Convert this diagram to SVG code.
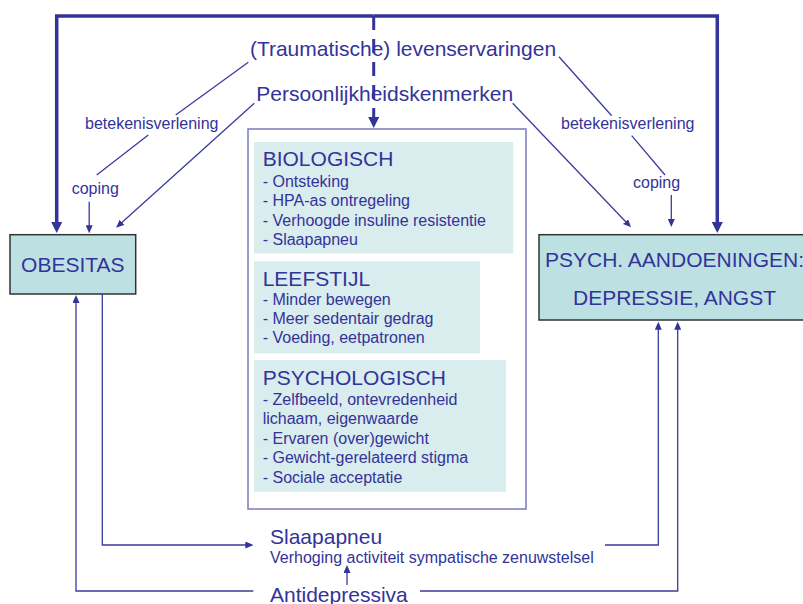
<svg xmlns="http://www.w3.org/2000/svg" width="803" height="604" viewBox="0 0 803 604">
<defs>
<style>
text{font-family:"Liberation Sans",Arial,sans-serif;fill:#333399}
.big{font-size:21px}
.sm{font-size:16px}
.mid{text-anchor:middle}
.node{fill:#bde0e3;stroke:#333333;stroke-width:1.5}
.panel{fill:#d9ecee}
.frame{fill:#ffffff;stroke:#7a7abf;stroke-width:1.5}
.thick{fill:none;stroke:#333399;stroke-width:3.5;stroke-linejoin:miter}
.dash{fill:none;stroke:#333399;stroke-width:3;stroke-dasharray:14 9}
.thin{fill:none;stroke:#3b3b9e;stroke-width:1.3}
</style>
<marker id="ah" markerUnits="userSpaceOnUse" markerWidth="8" markerHeight="7" refX="2" refY="3.5" orient="auto">
<path d="M0,0 L8,3.5 L0,7 z" fill="#333399"/>
</marker>
<marker id="ahb" markerUnits="userSpaceOnUse" markerWidth="11" markerHeight="11" refX="2" refY="5.5" orient="auto">
<path d="M0,0 L11,5.5 L0,11 z" fill="#333399"/>
</marker>
</defs>
<rect width="803" height="604" fill="#ffffff"/>

<g id="center-frame">
<rect class="frame" x="248" y="129" width="278" height="380"/>
</g>

<g id="biologisch">
<rect class="panel" x="254" y="142" width="259.3" height="111.3"/>
<text class="big" x="262.7" y="166">BIOLOGISCH</text>
<text class="sm" x="262.7" y="186.7">- Ontsteking</text>
<text class="sm" x="262.7" y="206.3">- HPA-as ontregeling</text>
<text class="sm" x="262.7" y="226">- Verhoogde insuline resistentie</text>
<text class="sm" x="262.7" y="245.3">- Slaapapneu</text>
</g>

<g id="leefstijl">
<rect class="panel" x="254" y="261.3" width="226" height="92"/>
<text class="big" x="262.7" y="285.7">LEEFSTIJL</text>
<text class="sm" x="262.7" y="305">- Minder bewegen</text>
<text class="sm" x="262.7" y="324.3">- Meer sedentair gedrag</text>
<text class="sm" x="262.7" y="343.3">- Voeding, eetpatronen</text>
</g>

<g id="psychologisch">
<rect class="panel" x="254" y="360" width="252" height="131.7"/>
<text class="big" x="262.7" y="385">PSYCHOLOGISCH</text>
<text class="sm" x="262.7" y="405">- Zelfbeeld, ontevredenheid</text>
<text class="sm" x="262.7" y="424.3">lichaam, eigenwaarde</text>
<text class="sm" x="262.7" y="444.3">- Ervaren (over)gewicht</text>
<text class="sm" x="262.7" y="463.3">- Gewicht-gerelateerd stigma</text>
<text class="sm" x="262.7" y="482.7">- Sociale acceptatie</text>
</g>

<g id="obesitas">
<rect class="node" x="10" y="234.7" width="125.7" height="59.3"/>
<text class="big mid" x="72.8" y="271.7">OBESITAS</text>
</g>

<g id="psych">
<rect class="node" x="539" y="234.7" width="266" height="85.3"/>
<text class="big mid" x="674.5" y="266.7">PSYCH. AANDOENINGEN:</text>
<text class="big mid" x="674.5" y="305">DEPRESSIE, ANGST</text>
</g>

<g id="levenservaringen">
<text class="big mid" x="403" y="56">(Traumatische) levenservaringen</text>
</g>

<g id="persoonlijkheid">
<text class="big mid" x="384.7" y="101">Persoonlijkheidskenmerken</text>
</g>

<g id="slaapapneu">
<text class="big" x="270" y="544">Slaapapneu</text>
<text class="sm" x="270" y="563.3">Verhoging activiteit sympatische zenuwstelsel</text>
</g>

<g id="antidepressiva">
<text class="big" x="270" y="602">Antidepressiva</text>
</g>

<g id="labels">
<text class="sm" x="85" y="128.5">betekenisverlening</text>
<text class="sm" x="71.7" y="194.3">coping</text>
<text class="sm" x="561" y="129">betekenisverlening</text>
<text class="sm" x="633" y="188.3">coping</text>
</g>

<g id="connectors">
<path class="thick" d="M373.7,16 H56.7 V224" marker-end="url(#ahb)"/>
<path class="thick" d="M373.7,16 H717.3 V224" marker-end="url(#ahb)"/>
<path class="dash" d="M373.7,16 V119" marker-end="url(#ahb)"/>

<path class="thin" d="M248.3,62.3 L175.7,115"/>
<path class="thin" d="M148.3,135 L96.7,175"/>
<path class="thin" d="M89.2,201.7 V227.3" marker-end="url(#ah)"/>
<path class="thin" d="M254.3,103.3 L120.5,223.7" marker-end="url(#ah)"/>

<path class="thin" d="M559,56.7 L611.7,115.7"/>
<path class="thin" d="M631.7,135.7 L665,175"/>
<path class="thin" d="M671.3,195 V221" marker-end="url(#ah)"/>
<path class="thin" d="M512.7,103.3 L626.9,223" marker-end="url(#ah)"/>

<path class="thin" d="M102.3,294 V545 H247.3" marker-end="url(#ah)"/>
<path class="thin" d="M605,545 H658.3 V327.7" marker-end="url(#ah)"/>
<path class="thin" d="M253.3,591 H76 V301" marker-end="url(#ah)"/>
<path class="thin" d="M420,591 H677.7 V327.7" marker-end="url(#ah)"/>
<path class="thin" d="M347,585 V571" marker-end="url(#ah)"/>
</g>
</svg>
